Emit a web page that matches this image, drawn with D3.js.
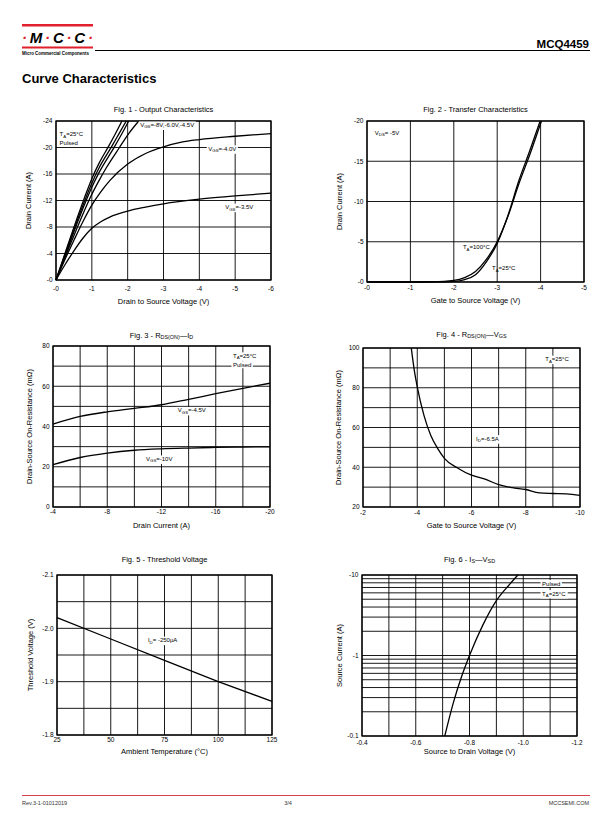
<!DOCTYPE html>
<html lang="en">
<head>
<meta charset="UTF-8">
<title>MCQ4459 Curve Characteristics</title>
<script src="https://d3js.org/d3.v7.min.js"></script>
<style>
  body { margin: 0; background: #fff; }
  svg { display: block; font-family: 'Liberation Sans', Arial, sans-serif; }
  .grid { stroke: #000; stroke-width: 0.9; }
  .frame { fill: none; stroke: #000; stroke-width: 1.3; }
  .curve { fill: none; stroke: #000; stroke-width: 1.3; }
  .tick { font-size: 6.5px; fill: #000; }
  .title, .axlabel { font-size: 7.5px; fill: #000; }
  .note { font-size: 6px; fill: #000; }
</style>
</head>
<body>
<svg id="page" width="612" height="825"></svg>
<script>
// Fig. 1 - output characteristics [Vds, Id]
const fig1Vgs10 = [[0,0],[-0.2,-3.2],[-0.4,-6.4],[-0.6,-9.5],[-0.8,-12.5],[-1.0,-15.3],[-1.2,-17.6],[-1.47,-20.2],[-1.65,-22.0],[-1.84,-24]];
const fig1Vgs8  = [[0,0],[-0.2,-3.0],[-0.4,-6.1],[-0.6,-9.1],[-0.84,-12.5],[-1.0,-14.6],[-1.2,-16.9],[-1.56,-20.2],[-1.76,-22.1],[-1.96,-24]];
const fig1Vgs6  = [[0,0],[-0.2,-2.9],[-0.4,-5.8],[-0.6,-8.7],[-0.88,-12.5],[-1.0,-14.0],[-1.2,-16.2],[-1.63,-20.1],[-1.83,-22.0],[-2.03,-24]];
const fig1Vgs45 = [[0,0],[-0.2,-2.7],[-0.4,-5.4],[-0.6,-8.0],[-0.96,-12.5],[-1.2,-15.0],[-1.4,-16.9],[-1.77,-20.0],[-2.03,-22.1],[-2.31,-24]];
const fig1Vgs40 = [[0,0],[-0.25,-3.1],[-0.5,-6.0],[-0.75,-8.8],[-1,-11.3],[-1.25,-13.3],[-1.5,-15.0],[-2,-17.5],[-2.5,-19.1],[-3,-20.1],[-3.5,-20.8],[-4,-21.2],[-5,-21.7],[-6,-22.1]];
const fig1Vgs35 = [[0,0],[-0.25,-2.3],[-0.5,-4.4],[-0.75,-6.3],[-1,-7.8],[-1.25,-8.8],[-1.5,-9.5],[-2,-10.4],[-2.5,-11.0],[-3,-11.5],[-4,-12.2],[-5,-12.7],[-6,-13.1]];
const fig1XTicks = [0,-1,-2,-3,-4,-5,-6];
const fig1YTicks = [0,-4,-8,-12,-16,-20,-24];

// Fig. 2 - transfer characteristics [Vgs, Id]
const fig2T25  = [[0,0],[-1,0],[-1.5,-0.01],[-2,-0.08],[-2.25,-0.3],[-2.5,-0.9],[-2.75,-2.5],[-3,-4.8],[-3.25,-8.3],[-3.5,-12.6],[-3.75,-16.3],[-3.99,-20]];
const fig2T100 = [[0,0],[-1,0],[-1.5,-0.03],[-2,-0.2],[-2.25,-0.55],[-2.5,-1.3],[-2.75,-2.8],[-3,-5.0],[-3.25,-8.2],[-3.5,-12.2],[-3.75,-15.8],[-4.02,-20]];
const fig2XTicks = [0,-1,-2,-3,-4,-5];
const fig2YTicks = [0,-5,-10,-15,-20];

// Fig. 3 - Rds(on) vs Id [Id, mOhm]
const fig3Vgs45 = [[-4,41.2],[-6,45],[-8,47.3],[-10,49],[-12,50.8],[-14,53.5],[-16,56.3],[-18,59],[-20,61.5]];
const fig3Vgs10 = [[-4,21],[-6,24.6],[-8,26.8],[-10,28.2],[-12,28.9],[-14,29.3],[-16,29.6],[-18,29.8],[-20,29.9]];
const fig3XTicks = [-4,-8,-12,-16,-20];
const fig3XGrid = [-4,-6,-8,-10,-12,-14,-16,-18,-20];
const fig3YTicks = [0,20,40,60,80];
const fig3YGrid = [0,10,20,30,40,50,60,70,80];

// Fig. 4 - Rds(on) vs Vgs [Vgs, mOhm]
const fig4Id65 = [[-3.78,100],[-3.9,88],[-4,80.5],[-4.25,66],[-4.5,56],[-4.75,49.5],[-5,44.5],[-5.5,39.5],[-6,36],[-6.5,34],[-7,31.2],[-7.5,29.7],[-8,28.8],[-8.5,27.1],[-9,26.8],[-9.5,26.6],[-10,25.8]];
const fig4XTicks = [-2,-4,-6,-8,-10];
const fig4XGrid = [-2,-3,-4,-5,-6,-7,-8,-9,-10];
const fig4YTicks = [20,40,60,80,100];
const fig4YGrid = [20,30,40,50,60,70,80,90,100];

// Fig. 5 - threshold voltage [Ta, Vth]
const fig5Vth = [[25,-2.02],[50,-1.98],[75,-1.94],[100,-1.90],[125,-1.863]];
const fig5XTicks = [25,50,75,100,125];
const fig5XGrid = [25,37.5,50,62.5,75,87.5,100,112.5,125];
const fig5YTicks = [-2.1,-2.0,-1.9,-1.8];
const fig5YGrid = [-2.1,-2.05,-2.0,-1.95,-1.9,-1.85,-1.8];

// Fig. 6 - Is vs Vsd [Vsd, Is]
const fig6Is = [[-0.708,-0.1],[-0.74,-0.26],[-0.77,-0.54],[-0.80,-1.0],[-0.85,-2.4],[-0.90,-4.8],[-0.95,-7.7],[-0.98,-10]];
const fig6XTicks = [-0.4,-0.6,-0.8,-1.0,-1.2];
const fig6XGrid = [-0.4,-0.5,-0.6,-0.7,-0.8,-0.9,-1.0,-1.1,-1.2];
const fig6YTicks = [-0.1,-1,-10];
const fig6YGrid = [-0.1,-0.2,-0.3,-0.4,-0.5,-0.6,-0.7,-0.8,-0.9,-1,-2,-3,-4,-5,-6,-7,-8,-9,-10];

const svg = d3.select("#page");
svg.append("rect").attr("width", 612).attr("height", 825).attr("fill", "#fff");

// text with _{sub} parts
function rich(text, str) {
  const parts = str.split(/(_\{[^}]*\})/).filter(s => s);
  let shift = 0;
  parts.forEach(p => {
    const sub = p.startsWith("_{");
    const t = text.append("tspan").text(sub ? p.slice(2, -1) : p);
    const target = sub ? 1.5 : 0;
    if (target !== shift) t.attr("dy", target - shift);
    shift = target;
    if (sub) t.attr("font-size", "72%");
  });
  return text;
}

const minus0 = d => d === 0 ? "-0" : String(d);
const fixed1 = d => d3.format(".1f")(d).replace("\u2212", "-");

function panel(p) {
  const g = svg.append("g");
  const [x0, x1] = p.x.range(), [y0, y1] = p.y.range();

  g.selectAll(".vg").data(p.xGrid).join("line").attr("class", "grid")
    .attr("x1", d => p.x(d)).attr("x2", d => p.x(d)).attr("y1", y0).attr("y2", y1);
  g.selectAll(".hg").data(p.yGrid).join("line").attr("class", "grid")
    .attr("y1", d => p.y(d)).attr("y2", d => p.y(d)).attr("x1", x0).attr("x2", x1);
  g.append("rect").attr("class", "frame")
    .attr("x", x0).attr("y", y1).attr("width", x1 - x0).attr("height", y0 - y1);

  g.selectAll(".xt").data(p.xTicks).join("text").attr("class", "tick")
    .attr("x", d => p.x(d)).attr("y", y0 + p.xTickDy).attr("text-anchor", "middle").text(p.xFmt);
  g.selectAll(".yt").data(p.yTicks).join("text").attr("class", "tick")
    .attr("x", x0 - 3.5).attr("y", d => p.y(d) + 2.3).attr("text-anchor", "end").text(p.yFmt);

  const line = d3.line().x(d => p.x(d[0])).y(d => p.y(d[1])).curve(p.curve || d3.curveMonotoneX);
  p.series.forEach(s => g.append("path").datum(s).attr("class", "curve").attr("d", line));

  p.notes.forEach(n => {
    const t = g.append("text").attr("class", "note").attr("x", p.x(n.at[0])).attr("y", p.y(n.at[1]));
    rich(t, n.text);
    if (n.bg) {
      const b = t.node().getBBox();
      g.insert("rect", () => t.node()).attr("fill", "#fff")
        .attr("x", b.x - 1.5).attr("y", b.y - 0.5).attr("width", b.width + 3).attr("height", b.height + 1);
    }
  });

  rich(g.append("text").attr("class", "title").attr("x", (x0 + x1) / 2).attr("y", p.titleY)
    .attr("text-anchor", "middle"), p.title);
  g.append("text").attr("class", "axlabel").attr("x", (x0 + x1) / 2).attr("y", p.xLabelY)
    .attr("text-anchor", "middle").text(p.xLabel);
  g.append("text").attr("class", "axlabel")
    .attr("transform", `translate(${p.yLabelX},${(y0 + y1) / 2}) rotate(-90)`)
    .attr("text-anchor", "middle").text(p.yLabel);
}

panel({
  x: d3.scaleLinear().domain([0, -6]).range([56, 271]),
  y: d3.scaleLinear().domain([0, -24]).range([280, 121]),
  xGrid: fig1XTicks, yGrid: fig1YTicks, xTicks: fig1XTicks, yTicks: fig1YTicks,
  xFmt: minus0, yFmt: minus0, xTickDy: 10.8,
  series: [fig1Vgs10, fig1Vgs8, fig1Vgs6, fig1Vgs45, fig1Vgs40, fig1Vgs35],
  notes: [
    { text: "T_{A}=25°C", at: [-0.1, -21.7] },
    { text: "Pulsed", at: [-0.1, -20.4] },
    { text: "V_{GS}=-8V,-6.0V,-4.5V", at: [-2.35, -23.1], bg: true },
    { text: "V_{GS}=-4.0V", at: [-4.25, -19.5], bg: true },
    { text: "V_{GS}=-3.5V", at: [-4.72, -10.7], bg: true }
  ],
  title: "Fig. 1 - Output Characteristics", titleY: 112,
  xLabel: "Drain to Source Voltage (V)", xLabelY: 304.4,
  yLabel: "Drain Current (A)", yLabelX: 31
});

panel({
  x: d3.scaleLinear().domain([0, -5]).range([367, 584]),
  y: d3.scaleLinear().domain([0, -20]).range([282, 121]),
  xGrid: fig2XTicks, yGrid: fig2YTicks, xTicks: fig2XTicks, yTicks: fig2YTicks,
  xFmt: minus0, yFmt: minus0, xTickDy: 8.3,
  series: [fig2T25, fig2T100],
  notes: [
    { text: "V_{DS}= -5V", at: [-0.18, -18.3] },
    { text: "T_{A}=100°C", at: [-2.21, -4.04] },
    { text: "T_{A}=25°C", at: [-2.88, -1.43] }
  ],
  title: "Fig. 2 - Transfer Characteristics", titleY: 112,
  xLabel: "Gate to Source Voltage (V)", xLabelY: 302.7,
  yLabel: "Drain Current (A)", yLabelX: 342
});

panel({
  x: d3.scaleLinear().domain([-4, -20]).range([53, 270]),
  y: d3.scaleLinear().domain([0, 80]).range([507, 346]),
  xGrid: fig3XGrid, yGrid: fig3YGrid, xTicks: fig3XTicks, yTicks: fig3YTicks,
  xFmt: String, yFmt: String, xTickDy: 7.3,
  series: [fig3Vgs45, fig3Vgs10],
  notes: [
    { text: "T_{A}=25°C", at: [-17.27, 74.1], bg: true },
    { text: "Pulsed", at: [-17.27, 69.7], bg: true },
    { text: "V_{GS}=-4.5V", at: [-13.2, 47.0], bg: true },
    { text: "V_{GS}=-10V", at: [-10.86, 22.9], bg: true }
  ],
  title: "Fig. 3 - R_{DS(ON)}—I_{D}", titleY: 337.7,
  xLabel: "Drain Current (A)", xLabelY: 527.7,
  yLabel: "Drain-Source On-Resistance (mΩ)", yLabelX: 32
});

panel({
  x: d3.scaleLinear().domain([-2, -10]).range([363, 580]),
  y: d3.scaleLinear().domain([20, 100]).range([507, 348]),
  xGrid: fig4XGrid, yGrid: fig4YGrid, xTicks: fig4XTicks, yTicks: fig4YTicks,
  xFmt: String, yFmt: String, xTickDy: 7.6,
  series: [fig4Id65],
  notes: [
    { text: "T_{A}=25°C", at: [-8.72, 93.4], bg: true },
    { text: "I_{D}=-6.5A", at: [-6.17, 53.4], bg: true }
  ],
  title: "Fig. 4 - R_{DS(ON)}—V_{GS}", titleY: 336.7,
  xLabel: "Gate to Source Voltage (V)", xLabelY: 527.7,
  yLabel: "Drain-Source On-Resistance (mΩ)", yLabelX: 341
});

panel({
  x: d3.scaleLinear().domain([25, 125]).range([57, 272]),
  y: d3.scaleLinear().domain([-1.8, -2.1]).range([735, 575]),
  xGrid: fig5XGrid, yGrid: fig5YGrid, xTicks: fig5XTicks, yTicks: fig5YTicks,
  xFmt: String, yFmt: fixed1, xTickDy: 6.8,
  curve: d3.curveLinear,
  series: [fig5Vth],
  notes: [
    { text: "I_{D}= -250µA", at: [67.3, -1.974], bg: true }
  ],
  title: "Fig. 5 - Threshold Voltage", titleY: 562,
  xLabel: "Ambient Temperature  (°C)", xLabelY: 754.4,
  yLabel: "Threshold Voltage (V)", yLabelX: 32.7
});

panel({
  x: d3.scaleLinear().domain([-0.4, -1.2]).range([362, 577]),
  y: d3.scaleLog().domain([-0.1, -10]).range([736, 575]),
  xGrid: fig6XGrid, yGrid: fig6YGrid, xTicks: fig6XTicks, yTicks: fig6YTicks,
  xFmt: fixed1, yFmt: String, xTickDy: 8.8,
  series: [fig6Is],
  notes: [
    { text: "Pulsed", at: [-1.07, -7.4], bg: true },
    { text: "T_{A}=25°C", at: [-1.07, -5.56], bg: true }
  ],
  title: "Fig. 6 - I_{S}—V_{SD}", titleY: 561.7,
  xLabel: "Source to Drain Voltage (V)", xLabelY: 754.4,
  yLabel: "Source Current (A)", yLabelX: 342
});

// header
const red = "#e0202a";
svg.append("rect").attr("x", 22).attr("y", 24).attr("width", 71).attr("height", 2.5).attr("fill", red);
const logo = svg.append("text").attr("x", 22).attr("y", 42.7)
  .attr("font-size", 15).attr("font-weight", "bold").attr("font-style", "italic")
  .attr("textLength", 71).attr("lengthAdjust", "spacing");
["·", "M", "·", "C", "·", "C", "·"].forEach(c =>
  logo.append("tspan").attr("fill", c === "·" ? red : "#000").text(c));
svg.append("rect").attr("x", 22).attr("y", 46.5).attr("width", 71).attr("height", 2).attr("fill", red);
svg.append("text").attr("x", 22).attr("y", 54.5).attr("font-size", 4.6).attr("font-weight", "bold")
  .attr("textLength", 67).attr("lengthAdjust", "spacingAndGlyphs").text("Micro Commercial Components");
svg.append("line").attr("x1", 95).attr("x2", 590).attr("y1", 50.5).attr("y2", 50.5)
  .attr("stroke", "#000").attr("stroke-width", 1);
svg.append("text").attr("x", 589).attr("y", 48).attr("text-anchor", "end")
  .attr("font-size", 11.5).attr("font-weight", "bold").text("MCQ4459");
svg.append("text").attr("x", 22).attr("y", 82.7)
  .attr("font-size", 13).attr("font-weight", "bold").text("Curve Characteristics");

// footer
svg.append("line").attr("x1", 22).attr("x2", 590).attr("y1", 795.5).attr("y2", 795.5)
  .attr("stroke", "#c8101e").attr("stroke-width", 0.8);
const foot = [["Rev.3-1-01012019", 22, "start"], ["3/4", 288, "middle"], ["MCCSEMI.COM", 589, "end"]];
svg.selectAll(".foot").data(foot).join("text")
  .attr("x", d => d[1]).attr("y", 805).attr("text-anchor", d => d[2])
  .attr("font-size", 5.5).attr("fill", "#333").text(d => d[0]);
</script>
</body>
</html>
